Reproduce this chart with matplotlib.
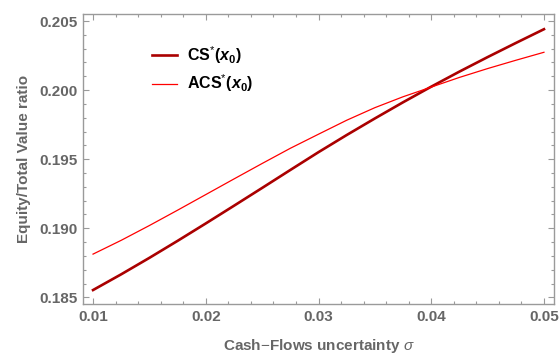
import matplotlib
matplotlib.use("Agg")
import matplotlib.pyplot as plt
from matplotlib.ticker import MultipleLocator, FormatStrFormatter

# cash-flow volatility grid
sigma = [0.01, 0.0125, 0.015, 0.0175, 0.02, 0.0225, 0.025, 0.0275, 0.03,
         0.0325, 0.035, 0.0375, 0.04, 0.0425, 0.045, 0.0475, 0.05]

# equity / total value ratio at the optimal coupon
cs_ratio = [0.18553, 0.18667, 0.18786, 0.18909, 0.19035, 0.19163, 0.19292, 0.19422, 0.19551,
            0.19675, 0.19795, 0.19912, 0.20025, 0.20134, 0.20239, 0.20341, 0.20441]
acs_ratio = [0.18813, 0.18913, 0.19020, 0.19131, 0.19244, 0.19357, 0.19469, 0.19579, 0.19681,
             0.19782, 0.19873, 0.19952, 0.20022, 0.20092, 0.20156, 0.20216, 0.20274]

x_ticks = [0.01, 0.02, 0.03, 0.04, 0.05]
y_ticks = [0.185, 0.190, 0.195, 0.200, 0.205]

plt.rcParams['font.family'] = ['Liberation Sans', 'DejaVu Sans']
plt.rcParams['mathtext.fontset'] = 'custom'
plt.rcParams['mathtext.rm'] = 'Liberation Sans'
plt.rcParams['mathtext.it'] = 'Liberation Sans:italic'
plt.rcParams['mathtext.bf'] = 'Liberation Sans:bold'
plt.rcParams['mathtext.bfit'] = 'Liberation Sans:bold:italic'

grey = '#666666'
frame = '#9a9a9a'

fig = plt.figure(figsize=(5.6, 3.55), dpi=100)
ax = fig.add_axes([83 / 560, 51 / 355, 471 / 560, 290 / 355])

ax.plot(sigma, cs_ratio, color='#aa0000', lw=1.9, label=r'CS$^{*}$($\mathbfit{x}_{\mathbf{0}}$)')
ax.plot(sigma, acs_ratio, color='#ff0000', lw=0.9, label=r'ACS$^{*}$($\mathbfit{x}_{\mathbf{0}}$)')

ax.set_xlim(0.00911, 0.05089)
ax.set_ylim(0.18452, 0.20551)
ax.set_xticks(x_ticks)
ax.set_yticks(y_ticks)
ax.xaxis.set_major_formatter(FormatStrFormatter('%.2f'))
ax.yaxis.set_major_formatter(FormatStrFormatter('%.3f'))
ax.xaxis.set_minor_locator(MultipleLocator(0.002))
ax.yaxis.set_minor_locator(MultipleLocator(0.001))

for s in ax.spines.values():
    s.set_color(frame)
    s.set_linewidth(1.0)
ax.tick_params(which='both', direction='in', top=True, right=True, color=frame, width=0.8)
ax.tick_params(which='major', length=4.5, labelsize=11, labelcolor=grey, pad=4)
ax.tick_params(which='minor', length=2.3)
for lab in ax.get_xticklabels() + ax.get_yticklabels():
    lab.set_fontweight('bold')

ax.set_xlabel(r'Cash$-$Flows uncertainty $\sigma$', fontsize=11, fontweight='bold', color=grey, labelpad=9.5)
ax.set_ylabel('Equity/Total Value ratio', fontsize=11, fontweight='bold', color=grey, labelpad=6)

leg = ax.legend(loc='upper left', bbox_to_anchor=(0.115, 0.945), frameon=False, fontsize=11.5,
                handlelength=1.6, handletextpad=0.6, labelspacing=0.42)
for t in leg.get_texts():
    t.set_fontweight('bold')

fig.savefig('out.png', dpi=100)
